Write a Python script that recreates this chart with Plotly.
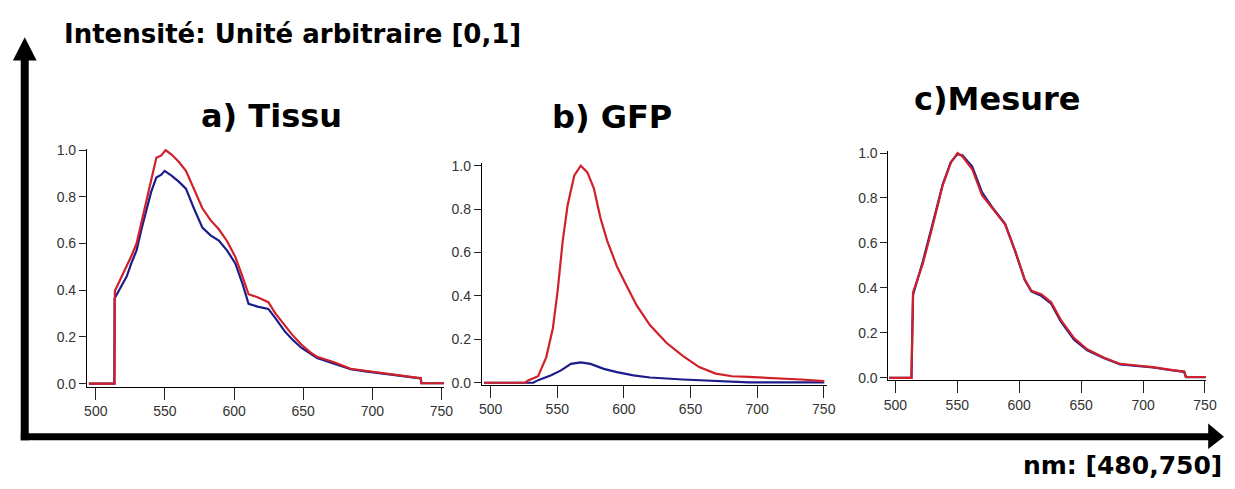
import plotly.graph_objects as go

W, H = 1235, 489

# ---------------- data ----------------
nm_ticks = [500, 550, 600, 650, 700, 750]
int_ticks = [0.0, 0.2, 0.4, 0.6, 0.8, 1.0]

# a) Tissu
tissu_red_x = [495, 513.6, 513.8, 518, 522.4, 526, 529.5, 533, 536.7, 540, 543.8, 547.4, 550.5, 555, 560,
               565.2, 571, 577.1, 583, 589, 595, 600.9, 606, 610.5, 617, 624.8, 630, 636.7, 642, 648.6,
               655, 660, 672.4, 684.3, 695, 708.1, 720, 731.9, 735, 735.5, 752]
tissu_red_y = [0, 0, 0.397, 0.45, 0.50, 0.55, 0.60, 0.69, 0.79, 0.88, 0.967, 0.977, 1.0, 0.98, 0.95,
               0.911, 0.83, 0.751, 0.70, 0.661, 0.61, 0.543, 0.46, 0.383, 0.37, 0.349, 0.30, 0.251, 0.21, 0.168,
               0.135, 0.115, 0.092, 0.064, 0.055, 0.043, 0.035, 0.026, 0.024, 0.002, 0.002]
tissu_blue_x = [495, 513.4, 513.6, 518, 522.4, 526, 529.5, 533, 536.7, 540, 543.8, 547.4, 549.8, 555, 560,
                565.2, 571, 577.1, 583, 589, 595, 600.9, 606, 610.5, 617, 624.8, 630, 636.7, 642, 648.6,
                660, 672.4, 684.3, 695, 708.1, 720, 731.9, 735, 735.5, 752]
tissu_blue_y = [0, 0, 0.365, 0.41, 0.46, 0.52, 0.571, 0.66, 0.751, 0.82, 0.883, 0.895, 0.911, 0.89, 0.865,
                0.835, 0.75, 0.668, 0.635, 0.6125, 0.57, 0.515, 0.43, 0.342, 0.33, 0.32, 0.28, 0.224, 0.19, 0.154,
                0.11, 0.085, 0.062, 0.053, 0.042, 0.034, 0.025, 0.023, 0.002, 0.002]

# b) GFP
gfp_red_x = [495, 525.7, 528.1, 535.6, 541.7, 546.7, 550.4, 554.1, 557.8, 562.7, 567.6, 572.6, 577.5, 582.4,
             587.4, 594.8, 602.2, 609.6, 619.5, 631.9, 644.2, 656.5, 668.9, 681.2, 693.6, 705.9, 718.2,
             733.1, 750.4]
gfp_red_y = [0, 0, 0.01, 0.03, 0.117, 0.251, 0.43, 0.655, 0.819, 0.954, 1.0, 0.969, 0.894, 0.759,
             0.655, 0.535, 0.445, 0.356, 0.266, 0.184, 0.124, 0.072, 0.042, 0.03, 0.027, 0.024, 0.018,
             0.015, 0.007]
gfp_blue_x = [495, 532, 535.6, 545.4, 552.8, 560.2, 567.6, 575, 584.9, 594.8, 607.1, 619.5, 644.2, 668.9,
              693.6, 750.4]
gfp_blue_y = [0, 0, 0.012, 0.034, 0.057, 0.087, 0.094, 0.087, 0.064, 0.049, 0.034, 0.024, 0.015, 0.007,
              0.002, 0.002]

# c) Mesure
mes_x = [495, 513, 514.3, 522.3, 530.3, 538.2, 544.8, 550.2, 554.1, 562.1, 570, 578, 588.6, 596.6, 604.5,
         609.8, 617.8, 625.8, 633.7, 644.3, 654.9, 668.2, 681.5, 695, 708, 721.3, 733.2, 734.6, 750.5]
mes_red_y = [0, 0, 0.38, 0.51, 0.68, 0.856, 0.957, 1.0, 0.985, 0.928, 0.812, 0.755, 0.683, 0.567, 0.437,
             0.387, 0.372, 0.336, 0.257, 0.177, 0.127, 0.091, 0.062, 0.055, 0.048, 0.037, 0.028, 0.004, 0.004]
mes_blue_y = [0, 0, 0.37, 0.52, 0.69, 0.86, 0.96, 0.995, 0.99, 0.94, 0.825, 0.76, 0.685, 0.565, 0.435,
              0.385, 0.365, 0.33, 0.25, 0.17, 0.122, 0.088, 0.06, 0.053, 0.046, 0.035, 0.027, 0.003, 0.003]

titles = ["a) Tissu", "b) GFP", "c)Mesure"]
y_title = "Intensité: Unité arbitraire [0,1]"
x_title = "nm: [480,750]"

RED = "#d0202a"
BLUE = "#1c1c8a"

# ---------------- helpers ----------------
def px(x):
    return x / W

def py(y):
    return 1 - y / H

fig = go.Figure()

panels = [
    dict(xd=(83, 445), yd=(390, 146), xr=(493.6, 752.0), yr=(-3 / 240, 1 + 1 / 240)),
    dict(xd=(483, 833), yd=(388, 160), xr=(493.3, 752.6), yr=(-2 / 223, 1 + 3 / 223)),
    dict(xd=(895, 1217), yd=(383, 148), xr=(494.4, 751.0), yr=(-2 / 231, 1 + 2 / 231)),
]

series = [
    [(tissu_blue_x, tissu_blue_y, BLUE), (tissu_red_x, tissu_red_y, RED)],
    [(gfp_blue_x, gfp_blue_y, BLUE), (gfp_red_x, gfp_red_y, RED)],
    [(mes_x, mes_blue_y, BLUE), (mes_x, mes_red_y, RED)],
]

tick_font = dict(family="Liberation Sans Narrow, Arial Narrow, Liberation Sans, Arial", size=14, color="#333333")

for i, (p, ser) in enumerate(zip(panels, series)):
    sfx = "" if i == 0 else str(i + 1)
    for xs, ys, col in ser:
        fig.add_trace(go.Scatter(x=xs, y=ys, mode="lines", line=dict(color=col, width=2.2),
                                 xaxis="x" + sfx, yaxis="y" + sfx, showlegend=False,
                                 hoverinfo="skip"))
    fig.layout["xaxis" + sfx] = dict(
        domain=[px(p["xd"][0]), px(p["xd"][1])], range=list(p["xr"]), anchor="y" + sfx,
        showline=True, linecolor="black", linewidth=1, ticks="outside", ticklen=12,
        tickcolor="#222", tickwidth=1, tickvals=nm_ticks, showgrid=False, zeroline=False,
        tickfont=tick_font, fixedrange=True)
    fig.layout["yaxis" + sfx] = dict(
        domain=[py(p["yd"][0]), py(p["yd"][1])], range=list(p["yr"]), anchor="x" + sfx,
        showline=True, linecolor="black", linewidth=1, ticks="outside", ticklen=7,
        tickcolor="#222", tickwidth=1, tickvals=int_ticks, tickformat=".1f", showgrid=False,
        zeroline=False, tickfont=tick_font, fixedrange=True)

title_font = "DejaVu Sans, Verdana, sans-serif"
annots = [
    dict(x=px(58), y=py(28), text="<b>%s</b>" % y_title, xanchor="left", yanchor="middle",
         font=dict(family=title_font, size=26, color="black")),
    dict(x=px(270), y=py(112), text="<b>%s</b>" % titles[0], xanchor="center", yanchor="middle",
         font=dict(family=title_font, size=32, color="black")),
    dict(x=px(615), y=py(113), text="<b>%s</b>" % titles[1], xanchor="center", yanchor="middle",
         font=dict(family=title_font, size=32, color="black")),
    dict(x=px(1005), y=py(95), text="<b>%s</b>" % titles[2], xanchor="center", yanchor="middle",
         font=dict(family=title_font, size=32, color="black")),
    dict(x=px(1235), y=py(471), text="<b>%s</b>" % x_title, xanchor="right", yanchor="middle",
         font=dict(family=title_font, size=25, color="black")),
]
for a in annots:
    a.update(xref="paper", yref="paper", showarrow=False)

shapes = [
    dict(type="line", xref="paper", yref="paper", x0=px(20), x1=px(20), y0=py(445), y1=py(52),
         line=dict(color="black", width=8)),
    dict(type="path", xref="paper", yref="paper",
         path="M %f %f L %f %f L %f %f Z" % (px(8), py(55), px(32), py(55), px(20), py(31)),
         fillcolor="black", line=dict(color="black", width=0)),
    dict(type="line", xref="paper", yref="paper", x0=px(16), x1=px(1222), y0=py(441.5), y1=py(441.5),
         line=dict(color="black", width=7)),
    dict(type="path", xref="paper", yref="paper",
         path="M %f %f L %f %f L %f %f Z" % (px(1219), py(428), px(1219), py(454), px(1235), py(441.5)),
         fillcolor="black", line=dict(color="black", width=0)),
]

fig.update_layout(width=W, height=H, autosize=False, margin=dict(l=0, r=0, t=0, b=0),
                  paper_bgcolor="white", plot_bgcolor="white", annotations=annots, shapes=shapes,
                  showlegend=False)

fig.write_html("out.html", config={"displayModeBar": False, "staticPlot": True},
               post_script="document.body.style.margin='0px';document.body.style.overflow='hidden';")
